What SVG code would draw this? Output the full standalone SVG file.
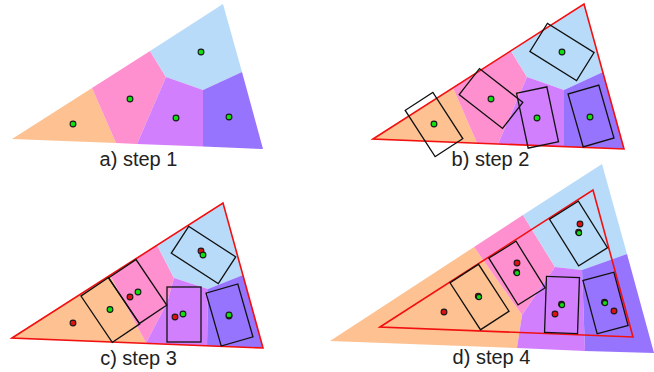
<svg xmlns="http://www.w3.org/2000/svg" width="654" height="372" viewBox="0 0 654 372">
<style>
.o{fill:#fdc192}.p{fill:#fe90cf}.b{fill:#b9dbfa}.u{fill:#d17ffd}.d{fill:#9774fd}
.tri{fill:none;stroke:#f21010;stroke-width:1.6;stroke-linejoin:miter}
.r{fill:none;stroke:#111;stroke-width:1.3}
.g{fill:#10e010;stroke:#1a1a1a;stroke-width:1.1}
.e{fill:#e01010;stroke:#1a1a1a;stroke-width:1.1}
text{font-family:"Liberation Sans",Arial,sans-serif;font-size:20px;fill:#222;text-anchor:middle}
</style>
<defs>
<g id="vor">
<polygon class="o" points="12,139 92,88 116,143"/>
<polygon class="p" points="92,88 150,51 166,77 137,144 116,143"/>
<polygon class="b" points="150,51 223,4 242,72 203,90 166,77"/>
<polygon class="u" points="166,77 203,90 203,146.6 137,144"/>
<polygon class="d" points="203,90 242,72 263,149 203,146.6"/>
</g>
</defs>

<g id="panel-a">
<use href="#vor"/>
<circle class="g" cx="73" cy="124" r="2.9"/>
<circle class="g" cx="130" cy="99" r="2.9"/>
<circle class="g" cx="176" cy="118" r="2.9"/>
<circle class="g" cx="229" cy="117" r="2.9"/>
<circle class="g" cx="201" cy="52" r="2.9"/>
<text x="138.5" y="166">a) step 1</text>
</g>

<g id="panel-b">
<use href="#vor" transform="translate(361,0)"/>
<polygon class="tri" points="373,139 584,4 624,149"/>
<rect class="r" x="-16.5" y="-27.5" width="33" height="55" transform="translate(434,124.5) rotate(-33)"/>
<rect class="r" x="-16.5" y="-27.5" width="33" height="55" transform="translate(491,98.5) rotate(-52)"/>
<rect class="r" x="-16.5" y="-27.5" width="33" height="55" transform="translate(562,52) rotate(-58)"/>
<rect class="r" x="-15.5" y="-28" width="31" height="56" transform="translate(537.5,117.5) rotate(-12)"/>
<rect class="r" x="-16" y="-27.5" width="32" height="55" transform="translate(591,116) rotate(-16)"/>
<circle class="g" cx="434" cy="124" r="2.9"/>
<circle class="g" cx="491" cy="99" r="2.9"/>
<circle class="g" cx="537" cy="118" r="2.9"/>
<circle class="g" cx="590" cy="117" r="2.9"/>
<circle class="g" cx="562" cy="52" r="2.9"/>
<text x="490.5" y="166">b) step 2</text>
</g>

<g id="panel-c">
<polygon class="o" points="12,338 110,275 146,343"/>
<polygon class="p" points="110,275 157,245 174,278 167,303 146,343"/>
<polygon class="b" points="157,245 223,203 243,275 208,289 174,278"/>
<polygon class="u" points="174,278 208,289 207,346 146,343 167,303"/>
<polygon class="d" points="208,289 243,275 263,348 207,346"/>
<polygon class="tri" points="12,338 223,203 263,348"/>
<rect class="r" x="-16.5" y="-28" width="33" height="56" transform="translate(110.3,310) rotate(-34)"/>
<rect class="r" x="-16.5" y="-27.5" width="33" height="55" transform="translate(137.7,291.5) rotate(-34)"/>
<rect class="r" x="-16" y="-28" width="32" height="56" transform="translate(203.5,255) rotate(-57)"/>
<rect class="r" x="-17" y="-27.5" width="34" height="55" transform="translate(184,314.5)"/>
<rect class="r" x="-16.5" y="-27.5" width="33" height="55" transform="translate(229.5,315) rotate(-16)"/>
<circle class="e" cx="73" cy="323" r="2.9"/>
<circle class="g" cx="110" cy="309.5" r="2.9"/>
<circle class="e" cx="130" cy="297" r="2.9"/>
<circle class="g" cx="138" cy="292" r="2.9"/>
<circle class="e" cx="201" cy="251" r="2.9"/>
<circle class="g" cx="203" cy="255" r="2.9"/>
<circle class="e" cx="175" cy="317" r="2.9"/>
<circle class="g" cx="183" cy="314" r="2.9"/>
<circle class="e" cx="229" cy="316" r="2.9"/>
<circle class="g" cx="229" cy="315" r="2.9"/>
<text x="138.5" y="365">c) step 3</text>
</g>

<g id="panel-d">
<polygon class="o" points="330,341 474,247 522,315 517,348"/>
<polygon class="p" points="474,247 523,215 555,267 522,315"/>
<polygon class="b" points="523,215 602,164 627,254 582,270 555,267"/>
<polygon class="u" points="555,267 582,270 585,351 517,348 522,315"/>
<polygon class="d" points="582,270 627,254 654,353 585,351"/>
<polygon class="tri" points="380,327 593,190 633,337"/>
<rect class="r" x="-17" y="-28" width="34" height="56" transform="translate(479.5,297) rotate(-33)"/>
<rect class="r" x="-16" y="-27.5" width="32" height="55" transform="translate(517,273) rotate(-32)"/>
<rect class="r" x="-17" y="-27.5" width="34" height="55" transform="translate(578.5,233.5) rotate(-32)"/>
<rect class="r" x="-16.5" y="-28" width="33" height="56" transform="translate(562,305) rotate(2)"/>
<rect class="r" x="-16" y="-27.5" width="32" height="55" transform="translate(605.5,303) rotate(-15)"/>
<circle class="e" cx="444" cy="312" r="2.9"/>
<circle class="e" cx="478.3" cy="296.2" r="2.9"/>
<circle class="g" cx="479" cy="297" r="2.6"/>
<circle class="e" cx="517" cy="263" r="2.9"/>
<circle class="e" cx="516.6" cy="272.2" r="2.9"/>
<circle class="g" cx="517" cy="273" r="2.6"/>
<circle class="e" cx="580" cy="224" r="2.9"/>
<circle class="e" cx="578.6" cy="232.2" r="2.9"/>
<circle class="g" cx="579" cy="233" r="2.6"/>
<circle class="e" cx="555" cy="314" r="2.9"/>
<circle class="e" cx="561.5" cy="304.3" r="2.9"/>
<circle class="g" cx="562" cy="305" r="2.6"/>
<circle class="e" cx="614" cy="311" r="2.9"/>
<circle class="e" cx="604.5" cy="302.3" r="2.9"/>
<circle class="g" cx="605" cy="303" r="2.6"/>
<text x="491.5" y="364">d) step 4</text>
</g>
</svg>
